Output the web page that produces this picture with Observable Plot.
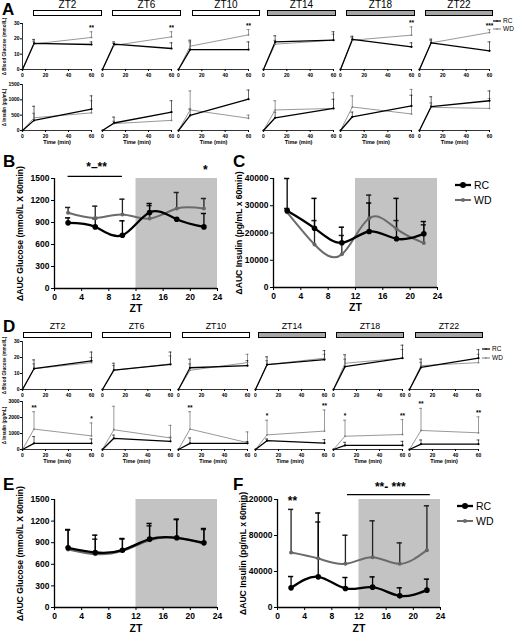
<!DOCTYPE html>
<html><head><meta charset="utf-8">
<script src="https://cdn.jsdelivr.net/npm/d3@7"></script>
<script src="https://cdn.jsdelivr.net/npm/@observablehq/plot@0.6"></script>
<style>
body{margin:0;background:#fff;font-family:"Liberation Sans",Arial,sans-serif;}
#page{position:relative;width:520px;height:635px;overflow:hidden;background:#fff;}
.plet{position:absolute;font-weight:bold;font-size:17px;line-height:1;}
.zbar{position:absolute;border:1px solid #000;box-sizing:border-box;}
.zlab{position:absolute;text-align:center;line-height:1;}
.leg{position:absolute;font-size:10.5px;line-height:1;display:flex;align-items:center;gap:3px;}
.sleg{position:absolute;font-size:6.5px;line-height:1;display:flex;align-items:center;gap:2px;}
</style></head><body><div id="page"></div><script>
// ---------- DATA ----------
const ztLabels = ["ZT2","ZT6","ZT10","ZT14","ZT18","ZT22"];
const ztHours = [2,6,10,14,18,22];
const phase = ["light","light","light","dark","dark","dark"];
const times = [0,10,60];
const timeTicks = [0,20,40,60];
const ztTicks = [0,4,8,12,16,20,24];
const darkPhase = [12,24];
const groups = ["RC","WD"];

// A: glucose (mmol/L) at 10 and 60 min; Hi = mean + SEM
const aGluRC   = [[17,16.3],[16.5,13.7],[13,13],[18,19.1],[19.6,14.8],[17.4,12.2]];
const aGluRCHi = [[19.6,18],[18,17.4],[19.1,18],[22,24.6],[21.7,17.4],[19.8,18]];
const aGluWD   = [[16.7,20.9],[15.7,21.3],[15.2,22.6],[16.5,19.1],[19.1,22.4],[17.4,24.1]];
const aGluWDHi = [[18.5,24.6],[17,24.6],[18,26],[19,23],[21,27.8],[19,26]];
const aGluSig60 = ["**","**","**","","**","***"];
// A: insulin (pg/mL)
const aInsRC   = [[330,700],[245,600],[490,1020],[415,720],[447,800],[780,970]];
const aInsRCHi = [[790,1130],[436,970],[700,1320],[600,1020],[600,1150],[1100,1290]];
const aInsWD   = [[415,575],[225,330],[670,400],[670,720],[766,540],[755,720]];
const aInsWDHi = [[560,970],[300,600],[1290,500],[970,1230],[1130,1340],[900,1040]];

// B: dAUC glucose (mmol/L x 60min)
const bRC   = [895,840,727,1036,945,840];
const bRCHi = [963,950,923,1159,960,1023];
const bWD   = [1032,963,1009,954,1090,1090];
const bWDHi = [1105,1123,1218,1130,1309,1227];
// C: dAUC insulin (pg/mL x 60min)
const cRC   = [28200,21760,16400,20550,17870,19700];
const cRCHi = [40000,32700,22130,31000,32700,24200];
const cWD   = [27600,15800,12160,25400,21500,16290];
const cWDHi = [29000,24560,19090,33900,24560,23000];

// D: glucose
const dGluRC   = [[13,17.9],[12.1,15.7],[13.6,14.9],[15.5,18.7],[14.3,19.6],[13.8,19.6]];
const dGluRCHi = [[18.5,23.4],[16.4,23.4],[19,18],[20.4,24.3],[21.7,27.7],[19,24.9]];
const dGluWD   = [[13,16.8],[12,16],[12,16.8],[15.5,19.6],[16.4,19.6],[14.9,16.8]];
const dGluWDHi = [[16,20],[15,21],[16,22],[18,22],[19,25],[17,22]];
// D: insulin
const dInsRC   = [[383,383],[700,510],[383,383],[550,404],[255,255],[340,340]];
const dInsRCHi = [[808,660],[900,766],[720,500],[660,617],[450,510],[595,595]];
const dInsWD   = [[1277,851],[1234,723],[1277,425],[915,1150],[830,936],[1190,1043]];
const dInsWDHi = [[2360,1660],[2700,1510],[2360,1100],[1830,2470],[1830,1870],[2570,2040]];
const dInsSig10 = ["**","","**","*","*","**"];
const dInsSig60 = ["*","","","**","**","**"];

// E: dAUC glucose
const eRC   = [829,764,796,949,968,898];
const eRCHi = [1083,1005,958,1167,1227,1097];
const eWD   = [805,740,787,935,968,884];
const eWDHi = [1075,949,950,1134,1220,1083];
// F: dAUC insulin
const fRC   = [21850,34070,21100,22600,12960,19260];
const fRCHi = [34400,105000,33300,34000,21850,31500];
const fWD   = [61100,54400,48500,55900,48500,63700];
const fWDHi = [109000,95000,80300,96300,71800,113000];

// significance annotations
const bSigBar = [{x1:2, x2:10, y:1530}];
const bSigText = [{x:6.2, y:1650, t:"*\u2013**"},{x:22.2, y:1620, t:"*"}];
const fSigBar = [{x1:10.3, x2:22.5, y:125500}];
const fSigText = [{x:16.6, y:133500, t:"**- ***"},{x:2.2, y:118000, t:"**"}];

// ---------- LAYOUT ----------
const page = document.getElementById("page");
const FONT = '"Liberation Sans", Arial, sans-serif';
const aPanelX = [[22,91],[102,171],[178,248],[263,333],[340,411],[419,489]];
const dPanelX = [[22,91],[102,170],[178,247],[255,324],[333,402],[409,478]];
const aBarX = [[33,102],[112,181],[192,260],[267,336],[346,415],[425,493]];
const dBarX = [[23,92],[102,171],[182,250],[258,326],[336,404],[415,483]];

function put(el, left, top){ el.style.position="absolute"; el.style.left=left+"px"; el.style.top=top+"px"; page.appendChild(el); }
function div(cls, html, left, top, extra){ const d=document.createElement("div"); d.className=cls; d.innerHTML=html; if(extra) Object.assign(d.style, extra); put(d,left,top); return d; }

function rowsOf(rc, rcHi, wd, wdHi){
  const rows=[];
  [["RC",rc,rcHi],["WD",wd,wdHi]].forEach(([s,v,h])=>times.forEach((t,i)=>rows.push({s,t,v:i?v[i-1]:0,hi:i?h[i-1]:0})));
  return rows;
}

function mini({x0,x1,y0,y1,domain,yTicks,rc,rcHi,wd,wdHi,showY,yLabel,showTime,sigs}){
  const ml = showY?26:4, mr=5, mt=14, mb=showTime?18:10;
  const rows = rowsOf(rc,rcHi,wd,wdHi);
  const rcR = rows.filter(d=>d.s==="RC"), wdR = rows.filter(d=>d.s==="WD");
  const eRC_ = rcR.filter(d=>d.t>0), eWD_ = wdR.filter(d=>d.t>0);
  const marks = [
    Plot.ruleY([domain[0]], {stroke:"#000", strokeWidth:0.8}),
    showY ? Plot.ruleX([0], {stroke:"#000", strokeWidth:0.8}) : null,
    Plot.ruleX(eWD_, {x:"t", y1:"v", y2:"hi", stroke:"#555", strokeWidth:0.6}),
    Plot.ruleY(eWD_, {y:"hi", x1:d=>d.t-1.3, x2:d=>d.t+1.3, stroke:"#555", strokeWidth:0.6}),
    Plot.ruleX(eRC_, {x:"t", y1:"v", y2:"hi", stroke:"#000", strokeWidth:0.6}),
    Plot.ruleY(eRC_, {y:"hi", x1:d=>d.t-1.3, x2:d=>d.t+1.3, stroke:"#000", strokeWidth:0.6}),
    Plot.line(wdR, {x:"t", y:"v", stroke:"#8c8c8c", strokeWidth:0.9}),
    Plot.line(rcR, {x:"t", y:"v", stroke:"#000", strokeWidth:1.3}),
    Plot.dot(wdR, {x:"t", y:"v", r:0.9, fill:"#777"}),
    Plot.dot(rcR, {x:"t", y:"v", r:1.1, fill:"#000"}),
    Plot.text(sigs, {x:"t", y:"y", text:"label", dy:-4, fontSize:6.5, fontWeight:"bold"}),
    showTime ? Plot.text(["Time (min)"], {frameAnchor:"bottom", lineAnchor:"middle", textAnchor:"middle", dy:12, fontSize:5.5, fontWeight:"bold"}) : null,
    showY ? Plot.text([yLabel], {frameAnchor:"left", lineAnchor:"middle", textAnchor:"middle", rotate:-90, dx:-18, fontSize:4.6, fontWeight:"bold"}) : null
  ];
  const svg = Plot.plot({
    width: (x1-x0)+ml+mr, height: (y1-y0)+mt+mb,
    marginLeft: ml, marginRight: mr, marginTop: mt, marginBottom: mb,
    x: {domain:[0,60], ticks: timeTicks, tickSize:2, tickPadding:1.5, label:null},
    y: showY ? {domain, ticks: yTicks, tickSize:2, tickPadding:1, tickFormat:d=>String(d), label:null}
             : {domain, axis:null},
    style: {fontSize:"5px", fontWeight:"bold", fontFamily:FONT, background:"transparent", overflow:"visible"},
    marks
  });
  put(svg, x0-ml, y0-mt);
}

function big({x0,x1,y0,y1,domain,yTicks,rc,rcHi,wd,wdHi,yLabel,extra,zdy}){
  const ml=56, mr=10, mt=26, mb=32;
  const rows=[]; ztHours.forEach((t,i)=>{rows.push({s:"RC",t,v:rc[i],hi:rcHi[i]}); rows.push({s:"WD",t,v:wd[i],hi:wdHi[i]});});
  const rcR=rows.filter(d=>d.s==="RC"), wdR=rows.filter(d=>d.s==="WD");
  const cap=0.38;
  const marks = [
    Plot.rect([darkPhase], {x1:d=>d[0], x2:d=>d[1], y1:()=>domain[0], y2:()=>domain[1], fill:"#c3c3c3"}),
    Plot.ruleY([domain[0]], {stroke:"#000", strokeWidth:1.3}),
    Plot.ruleX([0], {stroke:"#000", strokeWidth:1.3}),
    Plot.ruleX(wdR, {x:"t", y1:"v", y2:"hi", stroke:"#222", strokeWidth:1.3}),
    Plot.ruleY(wdR, {y:"hi", x1:d=>d.t-cap, x2:d=>d.t+cap, stroke:"#222", strokeWidth:1.5}),
    Plot.ruleX(rcR, {x:"t", y1:"v", y2:"hi", stroke:"#000", strokeWidth:1.3}),
    Plot.ruleY(rcR, {y:"hi", x1:d=>d.t-cap, x2:d=>d.t+cap, stroke:"#000", strokeWidth:1.5}),
    Plot.line(wdR, {x:"t", y:"v", curve:"natural", stroke:"#6b6b6b", strokeWidth:2}),
    Plot.dot(wdR, {x:"t", y:"v", r:2, fill:"#666"}),
    Plot.line(rcR, {x:"t", y:"v", curve:"natural", stroke:"#000", strokeWidth:2.3}),
    Plot.dot(rcR, {x:"t", y:"v", r:2.8, fill:"#000"}),
    Plot.text(["ZT"], {frameAnchor:"bottom", lineAnchor:"middle", textAnchor:"middle", dy:zdy||20, fontSize:10.5, fontWeight:"bold"}),
    Plot.text([yLabel], {frameAnchor:"left", lineAnchor:"middle", textAnchor:"middle", rotate:-90, dx:-34, fontSize:8.6, fontWeight:"bold"}),
    ...(extra||[])
  ];
  const svg = Plot.plot({
    width:(x1-x0)+ml+mr, height:(y1-y0)+mt+mb,
    marginLeft:ml, marginRight:mr, marginTop:mt, marginBottom:mb,
    x:{domain:[0,24], ticks:ztTicks, tickSize:3, tickPadding:2, label:null},
    y:{domain, ticks:yTicks, tickSize:3, tickPadding:2, tickFormat:d=>String(d), label:null},
    style:{fontSize:"8.5px", fontWeight:"bold", fontFamily:FONT, background:"transparent", overflow:"visible"},
    marks
  });
  put(svg, x0-ml, y0-mt);
}

function sigMarks(bars, texts){
  return [
    Plot.ruleY(bars, {y:"y", x1:"x1", x2:"x2", stroke:"#000", strokeWidth:1.3}),
    Plot.text(texts, {x:"x", y:"y", text:"t", fontSize:12, fontWeight:"bold"})
  ];
}

function legend(cls, left, top, gap, big){
  groups.forEach((g,i)=>{
    const col = g==="RC" ? "#000" : "#6b6b6b";
    const w = big?16:8, sw = big?(g==="RC"?2.3:2):(g==="RC"?1.2:0.9), r = big?(g==="RC"?3:2):0.8;
    const sv = `<svg width="${w}" height="8"><line x1="0" x2="${w}" y1="4" y2="4" stroke="${col}" stroke-width="${sw}"/><circle cx="${w/2}" cy="4" r="${r}" fill="${col}"/></svg>`;
    div(cls, sv + `<span>${g}</span>`, left, top + i*gap);
  });
}

// ---------- panel letters ----------
div("plet","A",2,1); div("plet","B",3,153); div("plet","C",233,153);
div("plet","D",3,318); div("plet","E",3,476); div("plet","F",233,476);

// ---------- header bars ----------
function headers(barX, yLab, yBar, h, fs){
  ztLabels.forEach((z,i)=>{
    const [a,b]=barX[i];
    div("zlab", z, a, yLab, {width:(b-a)+"px", fontSize:fs+"px"});
    div("zbar", "", a, yBar, {width:(b-a)+"px", height:h+"px", background: phase[i]==="dark"?"#a6a6a6":"#fff"});
  });
}
headers(aBarX, 0, 10, 6, 10);
headers(dBarX, 322, 332, 6, 8.8);

// ---------- panel A ----------
ztLabels.forEach((z,i)=>{
  const [x0,x1]=aPanelX[i];
  mini({x0,x1,y0:23,y1:69,domain:[0,30],yTicks:[0,10,20,30],
    rc:aGluRC[i],rcHi:aGluRCHi[i],wd:aGluWD[i],wdHi:aGluWDHi[i],
    showY:i===0,yLabel:"\u0394 Blood Glucose (mmol/L)",showTime:false,
    sigs: aGluSig60[i] ? [{t:60, y:Math.max(aGluRCHi[i][1],aGluWDHi[i][1]), label:aGluSig60[i]}] : []});
  mini({x0,x1,y0:84,y1:130,domain:[0,1500],yTicks:[0,500,1000,1500],
    rc:aInsRC[i],rcHi:aInsRCHi[i],wd:aInsWD[i],wdHi:aInsWDHi[i],
    showY:i===0,yLabel:"\u0394 Insulin (pg/mL)",showTime:true,sigs:[]});
});
legend("sleg", 493, 17, 8, false);

// ---------- panel D ----------
ztLabels.forEach((z,i)=>{
  const [x0,x1]=dPanelX[i];
  mini({x0,x1,y0:341,y1:389,domain:[0,30],yTicks:[0,10,20,30],
    rc:dGluRC[i],rcHi:dGluRCHi[i],wd:dGluWD[i],wdHi:dGluWDHi[i],
    showY:i===0,yLabel:"\u0394 Blood Glucose (mmol/L)",showTime:false,sigs:[]});
  const sigs=[];
  if(dInsSig10[i]) sigs.push({t:10, y:Math.max(dInsRCHi[i][0],dInsWDHi[i][0]), label:dInsSig10[i]});
  if(dInsSig60[i]) sigs.push({t:60, y:Math.max(dInsRCHi[i][1],dInsWDHi[i][1]), label:dInsSig60[i]});
  mini({x0,x1,y0:401,y1:449,domain:[0,3000],yTicks:[0,1000,2000,3000],
    rc:dInsRC[i],rcHi:dInsRCHi[i],wd:dInsWD[i],wdHi:dInsWDHi[i],
    showY:i===0,yLabel:"\u0394 Insulin (pg/mL)",showTime:true,sigs});
});
legend("sleg", 482, 345, 9, false);

// ---------- B, C, E, F ----------
big({x0:54,x1:217,y0:178,y1:288,domain:[0,1500],yTicks:[0,300,600,900,1200,1500],
  rc:bRC,rcHi:bRCHi,wd:bWD,wdHi:bWDHi,yLabel:"\u0394AUC Glucose (mmol/L X 60min)",
  extra:sigMarks(bSigBar,bSigText)});
big({x0:273,x1:437,y0:178,y1:287,domain:[0,40000],yTicks:[0,10000,20000,30000,40000],
  rc:cRC,rcHi:cRCHi,wd:cWD,wdHi:cWDHi,yLabel:"\u0394AUC Insulin (pg/mL x 60min)"});
legend("leg", 455, 180, 15, true);
big({x0:54,x1:217,y0:499,y1:607,domain:[0,1500],yTicks:[0,300,600,900,1200,1500],
  rc:eRC,rcHi:eRCHi,wd:eWD,wdHi:eWDHi,yLabel:"\u0394AUC Glucose (mmol/L X 60min)",zdy:21});
big({x0:277,x1:440,y0:499,y1:607,domain:[0,120000],yTicks:[0,40000,80000,120000],
  rc:fRC,rcHi:fRCHi,wd:fWD,wdHi:fWDHi,yLabel:"\u0394AUC Insulin (pg/mL x 60min)",zdy:21,
  extra:sigMarks(fSigBar,fSigText)});
legend("leg", 457, 501, 15, true);
</script></body></html>
